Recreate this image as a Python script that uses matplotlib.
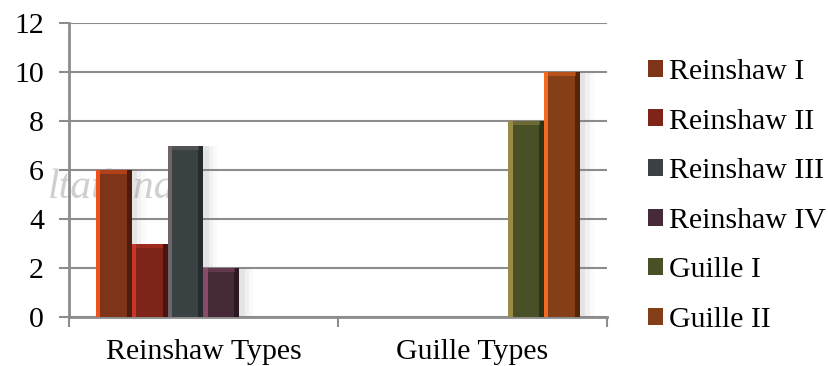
import matplotlib.pyplot as plt
import numpy as np

# data
groups = ["Reinshaw Types", "Guille Types"]
series = ["Reinshaw I", "Reinshaw II", "Reinshaw III", "Reinshaw IV", "Guille I", "Guille II"]
reinshaw_vals = [6, 3, 7, 2, 0, 0]
guille_vals = [0, 0, 0, 0, 8, 10]

# main face, left highlight, right shade
face = ["#7e3419", "#7f2419", "#3b4244", "#462a38", "#4a5026", "#843f18"]
light = ["#f0521f", "#c8352a", "#6f6468", "#8a4a6a", "#9a8a48", "#f46a1e"]
dark = ["#4e1c0c", "#4a1410", "#262c2e", "#2a1822", "#2c3214", "#542508"]

plt.rcParams['font.family'] = ['Liberation Serif', 'DejaVu Serif']
fs = 21.5

fig = plt.figure(figsize=(8.29, 3.66), dpi=100)
ax = fig.add_axes([0.0832, 0.1339, 0.6488, 0.8030])

# faint watermark writing behind the chart
fig.text(0.058, 0.46, "ltatkina", fontsize=30, style="italic", color="#cfcfcf",
         zorder=-1)

x = np.arange(len(groups))
n = len(series)
w = 0.8 / n
for i in range(n):
    vals = np.array([reinshaw_vals[i], guille_vals[i]], dtype=float)
    pos = x + (i - (n - 1) / 2) * w
    # soft shadow on the right
    for k, a in enumerate([0.10, 0.07, 0.04]):
        ax.bar(pos + w * (0.15 + 0.12 * k), vals, w, color="#808080", alpha=a,
               linewidth=0, zorder=2)
    ax.bar(pos, vals, w, color=face[i], linewidth=0, zorder=3)
    ax.bar(pos - w / 2 + w * 0.06, vals, w * 0.12, color=light[i], linewidth=0, zorder=4)
    ax.bar(pos + w / 2 - w * 0.07, vals, w * 0.14, color=dark[i], linewidth=0, zorder=4)
    top = np.where(vals > 0, 0.18, 0)
    ax.bar(pos, top, w * 0.76, bottom=vals - top, color=light[i], alpha=0.45,
           linewidth=0, zorder=4)
    ax.bar([-10], [0], w, color=face[i], label=series[i])

ax.set_xlim(-0.5, 1.5)
ax.set_ylim(0, 12)
ax.set_yticks(np.arange(0, 13, 2))
ax.yaxis.grid(True, color="#8c8c8c", linewidth=1.5, zorder=1)
ax.set_axisbelow(True)

ax.set_xticks([-0.5, 0.5, 1.5])
ax.set_xticklabels([])
ax.set_xticks(x, minor=True)
ax.set_xticklabels(groups, minor=True, fontsize=fs)
ax.tick_params(axis="x", which="minor", length=0, pad=16)
ax.tick_params(axis="x", which="major", length=7, width=1.5, color="#8c8c8c")
ax.tick_params(axis="y", length=7, width=1.5, color="#8c8c8c", pad=11, labelsize=fs)

for s in ["top", "right"]:
    ax.spines[s].set_visible(False)
for s in ["left", "bottom"]:
    ax.spines[s].set_color("#8c8c8c")
    ax.spines[s].set_linewidth(2)
ax.patch.set_alpha(0)

leg = fig.legend(loc="upper left", bbox_to_anchor=(0.782, 0.839), frameon=False,
                 fontsize=fs, handlelength=0.5, handleheight=0.5,
                 handletextpad=0.2, labelspacing=0.79, borderpad=0,
                 borderaxespad=0)

plt.savefig("out.png", dpi=100)
